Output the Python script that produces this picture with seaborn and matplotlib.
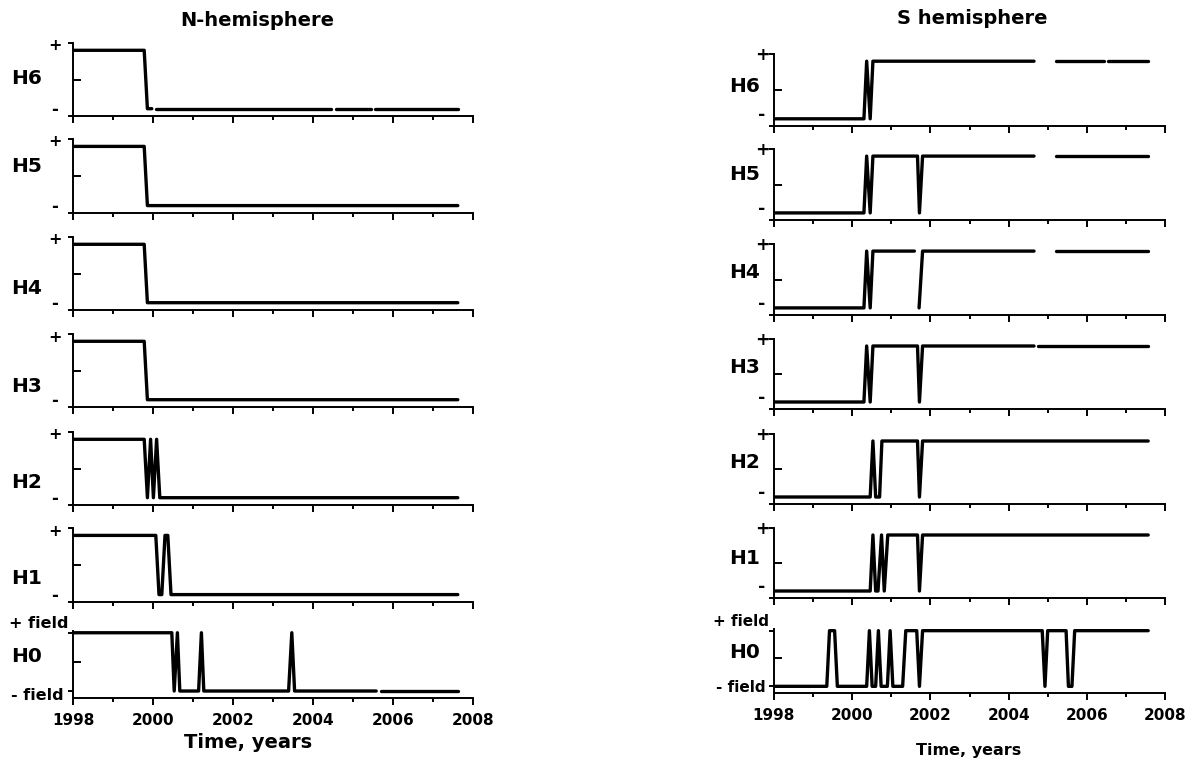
import numpy as np
import pandas as pd
import matplotlib
matplotlib.use("Agg")
import matplotlib.pyplot as plt
import seaborn as sns
from matplotlib.ticker import MultipleLocator, FixedLocator

nan = np.nan

# ---------------- data (time in years, polarity +1 / -1, nan = gap) ----------------
rows = ["H6", "H5", "H4", "H3", "H2", "H1", "H0"]

N_H6_t = [1998.0, 1999.78, 1999.86, 1999.97, nan, 2000.07, 2004.45, nan, 2004.57, 2005.44, nan, 2005.55, 2007.62]
N_H6_v = [1, 1, -1, -1, nan, -1, -1, nan, -1, -1, nan, -1, -1]
N_H5_t = [1998.0, 1999.78, 1999.86, 2007.62]
N_H5_v = [1, 1, -1, -1]
N_H4_t = [1998.0, 1999.78, 1999.86, 2007.62]
N_H4_v = [1, 1, -1, -1]
N_H3_t = [1998.0, 1999.78, 1999.86, 2007.62]
N_H3_v = [1, 1, -1, -1]
N_H2_t = [1998.0, 1999.78, 1999.86, 1999.94, 2000.01, 2000.09, 2000.17, 2007.62]
N_H2_v = [1, 1, -1, 1, -1, 1, -1, -1]
N_H1_t = [1998.0, 2000.07, 2000.15, 2000.22, 2000.30, 2000.37, 2000.45, 2007.62]
N_H1_v = [1, 1, -1, -1, 1, 1, -1, -1]
N_H0_t = [1998.0, 2000.47, 2000.53, 2000.61, 2000.67, 2001.14, 2001.21, 2001.27, 2003.39, 2003.47,
          2003.54, 2005.58, nan, 2005.70, 2007.62]
N_H0_v = [1, 1, -1, 1, -1, -1, 1, -1, -1, 1, -1, -1, nan, -1, -1]

S_H6_t = [1998.0, 2000.30, 2000.37, 2000.46, 2000.53, 2004.65, nan, 2005.21, 2006.45, nan, 2006.55, 2007.57]
S_H6_v = [-1, -1, 1, -1, 1, 1, nan, 1, 1, nan, 1, 1]
S_H5_t = [1998.0, 2000.30, 2000.37, 2000.46, 2000.53, 2001.67, 2001.72, 2001.80, 2004.65, nan, 2005.21, 2007.57]
S_H5_v = [-1, -1, 1, -1, 1, 1, -1, 1, 1, nan, 1, 1]
S_H4_t = [1998.0, 2000.30, 2000.37, 2000.46, 2000.53, 2001.59, nan, 2001.71, 2001.80, 2004.65, nan, 2005.21, 2007.57]
S_H4_v = [-1, -1, 1, -1, 1, 1, nan, -1, 1, 1, nan, 1, 1]
S_H3_t = [1998.0, 2000.30, 2000.37, 2000.46, 2000.53, 2001.67, 2001.72, 2001.80, 2004.65, nan, 2004.76, 2007.57]
S_H3_v = [-1, -1, 1, -1, 1, 1, -1, 1, 1, nan, 1, 1]
S_H2_t = [1998.0, 2000.46, 2000.53, 2000.60, 2000.70, 2000.76, 2001.67, 2001.72, 2001.80, 2007.57]
S_H2_v = [-1, -1, 1, -1, -1, 1, 1, -1, 1, 1]
S_H1_t = [1998.0, 2000.46, 2000.53, 2000.60, 2000.66, 2000.75, 2000.82, 2000.91, 2001.67, 2001.72, 2001.80, 2007.57]
S_H1_v = [-1, -1, 1, -1, -1, 1, -1, 1, 1, -1, 1, 1]
S_H0_t = [1998.0, 1999.35, 1999.42, 1999.55, 1999.62, 2000.37, 2000.44, 2000.51, 2000.60, 2000.67,
          2000.74, 2000.90, 2000.97, 2001.04, 2001.29, 2001.37, 2001.65, 2001.72, 2001.80, 2004.86,
          2004.93, 2005.00, 2005.47, 2005.53, 2005.62, 2005.69, 2007.57]
S_H0_v = [-1, -1, 1, 1, -1, -1, 1, -1, -1, 1, -1, -1, 1, -1, -1, 1, 1, -1, 1, 1, -1, 1, 1, -1, -1, 1, 1]

north = [(N_H6_t, N_H6_v), (N_H5_t, N_H5_v), (N_H4_t, N_H4_v), (N_H3_t, N_H3_v),
         (N_H2_t, N_H2_v), (N_H1_t, N_H1_v), (N_H0_t, N_H0_v)]
south = [(S_H6_t, S_H6_v), (S_H5_t, S_H5_v), (S_H4_t, S_H4_v), (S_H3_t, S_H3_v),
         (S_H2_t, S_H2_v), (S_H1_t, S_H1_v), (S_H0_t, S_H0_v)]

title_n = "N-hemisphere"
title_s = "S hemisphere"
xlabel = "Time, years"

# ---------------- layout (pixels) ----------------
W, H = 1194, 760
left_x = (73, 473)
right_x = (774, 1165)
left_tb = [(43, 116), (139, 213), (237, 310), (334, 407), (432, 505), (528, 602), (631, 698)]
right_tb = [(54, 126), (149, 220), (244, 315), (339, 409), (434, 504), (528, 598), (629, 693)]
left_lab_y = [78, 167, 288, 387, 482, 578, 657]
right_lab_y = [87, 175, 272, 368, 462, 558, 652]

sns.set_theme(style="white")
plt.rcParams["font.family"] = ["DejaVu Sans"]
plt.rcParams["font.weight"] = "bold"
plt.rcParams["text.color"] = "black"

fig = plt.figure(figsize=(W / 100, H / 100), dpi=100)


def P(x, y):
    return x / W, 1 - y / H


def to_df(t, v):
    t = np.asarray(t, float)
    v = np.asarray(v, float)
    seg = np.cumsum(np.isnan(t))
    df = pd.DataFrame({"t": t, "v": v, "seg": seg}).dropna()
    return df


def draw(ax, t, v, is_h0, show_xlabels):
    df = to_df(t, v)
    sns.lineplot(data=df, x="t", y="v", units="seg", estimator=None, sort=False,
                 color="black", lw=2.4, ax=ax, legend=False)
    ax.set_xlim(1998, 2008)
    ax.xaxis.set_major_locator(MultipleLocator(2))
    ax.xaxis.set_minor_locator(MultipleLocator(1))
    if is_h0:
        lo, hi = -1.24, 1.06
        yt = [-1, 1]
    else:
        lo, hi = -1.25, 1.25
        yt = [lo, hi]
    ax.set_ylim(lo, hi)
    ax.set_yticks(yt)
    ax.yaxis.set_minor_locator(FixedLocator([0]))
    ax.tick_params(axis="y", which="major", direction="out", length=3.6, width=1.4,
                   left=True, labelleft=False, color="black")
    ax.tick_params(axis="y", which="minor", direction="in", length=6, width=1.4,
                   left=True, color="black")
    ax.tick_params(axis="x", which="major", direction="out", length=5, width=1.4,
                   bottom=True, pad=5.6, labelsize=11, labelbottom=show_xlabels,
                   color="black", labelcolor="black")
    ax.tick_params(axis="x", which="minor", direction="out", length=3, width=1.4,
                   bottom=True, color="black")
    for s in ["top", "right"]:
        ax.spines[s].set_visible(False)
    for s in ["left", "bottom"]:
        ax.spines[s].set_linewidth(1.4)
        ax.spines[s].set_color("black")
    ax.set_xlabel("")
    ax.set_ylabel("")
    ax.patch.set_alpha(0)


for col, (xr, tbs, series, lab_y, lab_x) in enumerate([
        (left_x, left_tb, north, left_lab_y, 27),
        (right_x, right_tb, south, right_lab_y, 745)]):
    for i, ((top, bot), (t, v)) in enumerate(zip(tbs, series)):
        x0, y0 = P(xr[0], bot)
        w = (xr[1] - xr[0]) / W
        h = (bot - top) / H
        ax = fig.add_axes([x0, y0, w, h])
        is_h0 = rows[i] == "H0"
        draw(ax, t, v, is_h0, is_h0)
        fig.text(*P(lab_x, lab_y[i]), rows[i], ha="center", va="center",
                 fontsize=14.5, fontweight="bold", color="black")
        if not is_h0:
            if col == 0:
                fig.text(*P(55, top + 3), "+", ha="center", va="center", fontsize=11.5,
                         fontweight="bold", color="black")
                fig.text(*P(55, bot - 6), "-", ha="center", va="center", fontsize=12,
                         fontweight="bold", color="black")
            else:
                fig.text(*P(762, top + 1), "+", ha="center", va="center", fontsize=12.5,
                         fontweight="bold", color="black")
                fig.text(*P(762, bot - 11), "-", ha="center", va="center", fontsize=12.5,
                         fontweight="bold", color="black")

# field labels
fig.text(*P(39, 624), "+ field", ha="center", va="center", fontsize=11.5, fontweight="bold", color="black")
fig.text(*P(37, 696), "- field", ha="center", va="center", fontsize=11.5, fontweight="bold", color="black")
fig.text(*P(741, 622), "+ field", ha="center", va="center", fontsize=11, fontweight="bold", color="black")
fig.text(*P(741, 687), "- field", ha="center", va="center", fontsize=11, fontweight="bold", color="black")

# titles and axis labels
fig.text(*P(257, 21), title_n, ha="center", va="center", fontsize=14, fontweight="bold", color="black")
fig.text(*P(972, 18), title_s, ha="center", va="center", fontsize=14, fontweight="bold", color="black")
fig.text(*P(248, 743), xlabel, ha="center", va="center", fontsize=14, fontweight="bold", color="black")
fig.text(*P(969, 750), xlabel, ha="center", va="center", fontsize=11.5, fontweight="bold", color="black")

fig.savefig("out.png", dpi=100)
